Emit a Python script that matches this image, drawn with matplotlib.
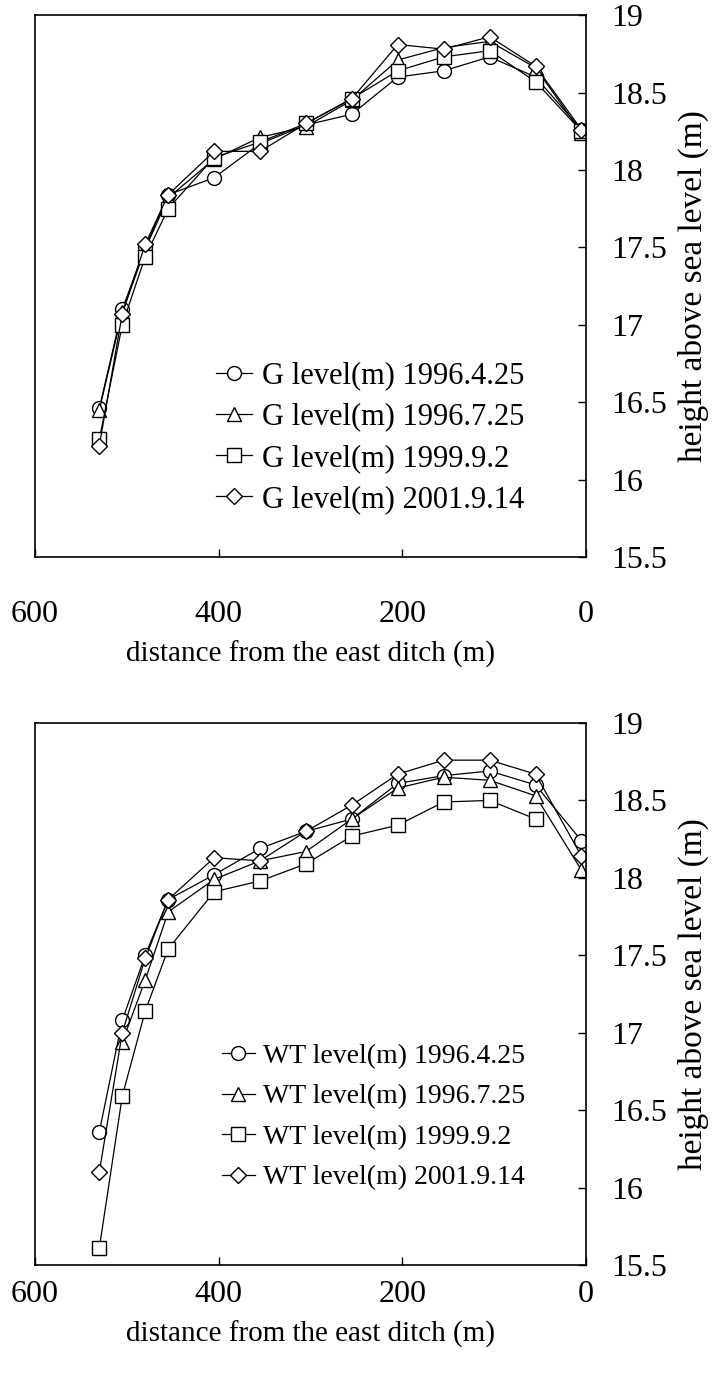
import numpy as np
import matplotlib
matplotlib.use("Agg")
import matplotlib.pyplot as plt

plt.rcParams['font.family'] = ['Liberation Serif', 'DejaVu Serif']

# distance from the east ditch (m)
dist = [530, 505, 480, 455, 405, 355, 305, 255, 205, 155, 105, 55, 5]

# ground level (m)
g_19960425 = [16.46, 17.10, 17.50, 17.84, 17.95, 18.17, 18.29, 18.36, 18.60, 18.64, 18.73, 18.60, 18.26]
g_19960725 = [16.45, 17.08, 17.49, 17.82, 18.07, 18.21, 18.28, 18.45, 18.71, 18.79, 18.83, 18.66, 18.24]
g_19990902 = [16.26, 17.00, 17.44, 17.75, 18.08, 18.18, 18.30, 18.46, 18.64, 18.73, 18.77, 18.57, 18.25]
g_20010914 = [16.22, 17.07, 17.52, 17.84, 18.12, 18.12, 18.30, 18.46, 18.81, 18.78, 18.86, 18.67, 18.26]

# water table level (m), nan = not measured
wt_19960425 = [16.36, 17.08, 17.50, 17.86, 18.02, 18.19, 18.30, 18.38, 18.61, 18.66, 18.69, 18.60, 18.24]
wt_19960725 = [np.nan, 16.94, 17.34, 17.78, 17.99, 18.11, 18.17, 18.38, 18.58, 18.65, 18.63, 18.53, 18.05]
wt_19990902 = [15.61, 16.59, 17.14, 17.54, 17.91, 17.98, 18.09, 18.27, 18.34, 18.49, 18.50, 18.38, np.nan]
wt_20010914 = [16.10, 17.00, 17.48, 17.86, 18.13, 18.11, 18.30, 18.47, 18.67, 18.76, 18.76, 18.67, 18.14]

dates = ["1996.4.25", "1996.7.25", "1999.9.2", "2001.9.14"]
markers = [("o", 10), ("^", 10.5), ("s", 10), ("D", 8)]

fig = plt.figure(figsize=(7.12, 13.84), dpi=100)
ax1 = fig.add_axes([0.0492, 0.5975, 0.7739, 0.3916])
ax2 = fig.add_axes([0.0492, 0.0860, 0.7739, 0.3916])


def panel(ax, series, prefix, xpad, leg_y, leg_fs, leg_sp):
    for ys, d, (m, ms) in zip(series, dates, markers):
        ax.plot(dist, ys, color="black", lw=0.9, marker=m, ms=ms,
                mfc="white", mec="black", mew=1.0,
                label=prefix + " level(m) " + d)
    ax.set_xlim(600, 0)
    ax.set_ylim(15.5, 19)
    ax.set_xticks([600, 400, 200, 0])
    ax.set_yticks([15.5, 16, 16.5, 17, 17.5, 18, 18.5, 19])
    ax.set_yticklabels(["15.5", "16", "16.5", "17", "17.5", "18", "18.5", "19"])
    ax.yaxis.tick_right()
    ax.yaxis.set_label_position("right")
    ax.tick_params(axis="x", direction="in", length=6, width=1, pad=xpad,
                   labelsize=23, top=False)
    ax.tick_params(axis="y", direction="in", length=6, width=1, pad=18,
                   labelsize=23, left=False)
    for s in ax.spines.values():
        s.set_linewidth(1.2)
    ax.set_xlabel("distance from the east ditch (m)", fontsize=21, labelpad=8)
    ax.set_ylabel("height above sea level (m)", fontsize=24, labelpad=8)
    ax.legend(loc="lower right", bbox_to_anchor=(0.915, leg_y), frameon=False,
              fontsize=leg_fs, handlelength=1.2, handletextpad=0.3,
              labelspacing=leg_sp, borderpad=0)


panel(ax1, [g_19960425, g_19960725, g_19990902, g_20010914], "G",
      xpad=31, leg_y=0.051, leg_fs=22, leg_sp=0.4)
panel(ax2, [wt_19960425, wt_19960725, wt_19990902, wt_20010914], "WT",
      xpad=11, leg_y=0.112, leg_fs=20, leg_sp=0.54)

fig.savefig("out.png", dpi=100)
